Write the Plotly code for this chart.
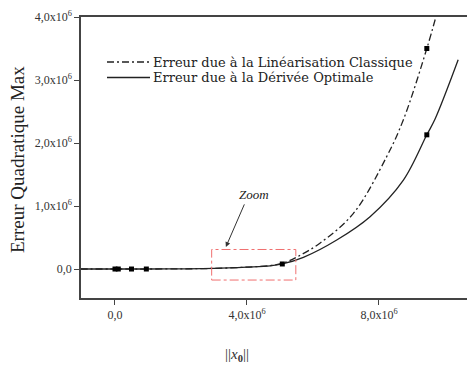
import plotly.graph_objects as go

# Data
x_opt = [-1.05, 0.0, 0.1, 0.5, 0.95, 2.0, 3.0, 4.0, 4.7, 5.07, 5.71, 6.72, 7.73, 8.74, 9.45, 9.7, 10.4]
y_opt = [0.0, 0.0, 0.0, 0.0, 0.0, 0.003, 0.01, 0.03, 0.05, 0.08, 0.185, 0.46, 0.83, 1.41, 2.13, 2.38, 3.32]

x_lin = [-1.05, 0.0, 0.1, 0.5, 0.95, 2.0, 3.0, 4.0, 4.7, 5.07, 5.51, 6.21, 7.22, 8.23, 8.74, 9.45, 9.75]
y_lin = [0.0, 0.0, 0.0, 0.0, 0.0, 0.003, 0.01, 0.03, 0.055, 0.09, 0.19, 0.41, 0.88, 1.78, 2.37, 3.50, 4.05]

mk_opt_x = [0.0, 0.1, 0.5, 0.95, 5.07, 9.45]
mk_opt_y = [0.0, 0.0, 0.0, 0.0, 0.08, 2.13]
mk_lin_x = [9.45]
mk_lin_y = [3.50]

x_ticks = [0, 4, 8]
x_tick_labels = ["0,0", "4,0x10<sup>6</sup>", "8,0x10<sup>6</sup>"]
y_ticks = [0, 1, 2, 3, 4]
y_tick_labels = ["0,0", "1,0x10<sup>6</sup>", "2,0x10<sup>6</sup>", "3,0x10<sup>6</sup>", "4,0x10<sup>6</sup>"]

series_names = ["Erreur due à la Linéarisation Classique", "Erreur due à la Dérivée Optimale"]

zoom_box = [2.93, 5.48, -0.175, 0.31]

SERIF = "Liberation Serif, Times New Roman, serif"
LEG_FONT = "DejaVu Serif, serif"
INK = "#222222"
DASHDOT = "7px,3px,2px,3px"

# The page body has an 8px default margin: compensate so the plot area
# lands at the same window pixels as the reference.
OFF = 8
W, H = 475 - OFF, 380 - OFF
PL, PR, PT, PB = 81, 475, 17, 298     # plot area in window pixels
L, T = PL - OFF, PT - OFF
R = 0
B = H - (PB - OFF)
pw, ph = W - L - R, H - T - B


def px(xp):
    return (xp - PL) / pw


def py(yp):
    return (PB - yp) / ph


fig = go.Figure()
fig.add_trace(go.Scatter(x=x_lin, y=y_lin, mode="lines", line_shape="spline",
                         line=dict(color=INK, width=1.3, dash=DASHDOT),
                         name=series_names[0], showlegend=False))
fig.add_trace(go.Scatter(x=x_opt, y=y_opt, mode="lines", line_shape="spline",
                         line=dict(color=INK, width=1.3),
                         name=series_names[1], showlegend=False))
fig.add_trace(go.Scatter(x=mk_opt_x, y=mk_opt_y, mode="markers",
                         marker=dict(symbol="square", size=5, color="black"),
                         showlegend=False))
fig.add_trace(go.Scatter(x=mk_lin_x, y=mk_lin_y, mode="markers",
                         marker=dict(symbol="square", size=5, color="black"),
                         showlegend=False))

fig.add_shape(type="rect", xref="x", yref="y",
              x0=zoom_box[0], x1=zoom_box[1], y0=zoom_box[2], y1=zoom_box[3],
              line=dict(color="#f07070", width=1, dash="dashdot"))

fig.add_annotation(x=3.36, y=0.35, ax=3.94, ay=1.05, axref="x", ayref="y",
                   xref="x", yref="y", text="", showarrow=True,
                   arrowhead=2, arrowsize=1, arrowwidth=1, arrowcolor="#333")
fig.add_annotation(x=4.2, y=1.18, xref="x", yref="y", text="<i>Zoom</i>",
                   showarrow=False, xanchor="center", yanchor="middle",
                   font=dict(family=SERIF, size=13, color="#222"))

# manual legend (compact like the reference)
leg_rows = [62, 77.5]
leg_dash = [DASHDOT, "solid"]
for name, yrow, dash in zip(series_names, leg_rows, leg_dash):
    fig.add_shape(type="line", xref="paper", yref="paper",
                  x0=px(107), x1=px(150), y0=py(yrow), y1=py(yrow),
                  line=dict(color=INK, width=1.3, dash=dash))
    fig.add_annotation(x=px(152), y=py(yrow), xref="paper", yref="paper",
                       text=name, showarrow=False, xanchor="left", yanchor="middle",
                       borderpad=0,
                       font=dict(family=LEG_FONT, size=13, color="#222"))

fig.add_annotation(x=px(17), y=py(160), xref="paper", yref="paper",
                   text="Erreur Quadratique Max", showarrow=False, textangle=-90,
                   xanchor="center", yanchor="middle",
                   font=dict(family=SERIF, size=19, color="#222"))
fig.add_annotation(x=px(237), y=py(355), xref="paper", yref="paper",
                   text="||<i>x</i><sub><b>0</b></sub>||",
                   showarrow=False, xanchor="center", yanchor="middle",
                   font=dict(family=SERIF, size=15, color="#333"))

fig.update_layout(
    width=W, height=H,
    margin=dict(l=L, r=R, t=T, b=B, autoexpand=False),
    paper_bgcolor="white", plot_bgcolor="white",
    font=dict(family=SERIF, size=12, color="#333"),
    showlegend=False,
    xaxis=dict(range=[-1.03, 10.91], tickvals=x_ticks, ticktext=x_tick_labels,
               automargin=False,
               showgrid=False, zeroline=False, showline=True, linecolor="#444",
               linewidth=1.5, mirror=True, ticks="outside", ticklen=5,
               tickcolor="#444", tickfont=dict(family=SERIF, size=12, color="#333")),
    yaxis=dict(range=[-0.46, 4.0], tickvals=y_ticks, ticktext=y_tick_labels,
               automargin=False,
               showgrid=False, zeroline=False, showline=True, linecolor="#444",
               linewidth=1.5, ticks="outside", ticklen=5,
               tickcolor="#444", tickfont=dict(family=SERIF, size=12, color="#333")),
)

fig.write_html("out.html")
